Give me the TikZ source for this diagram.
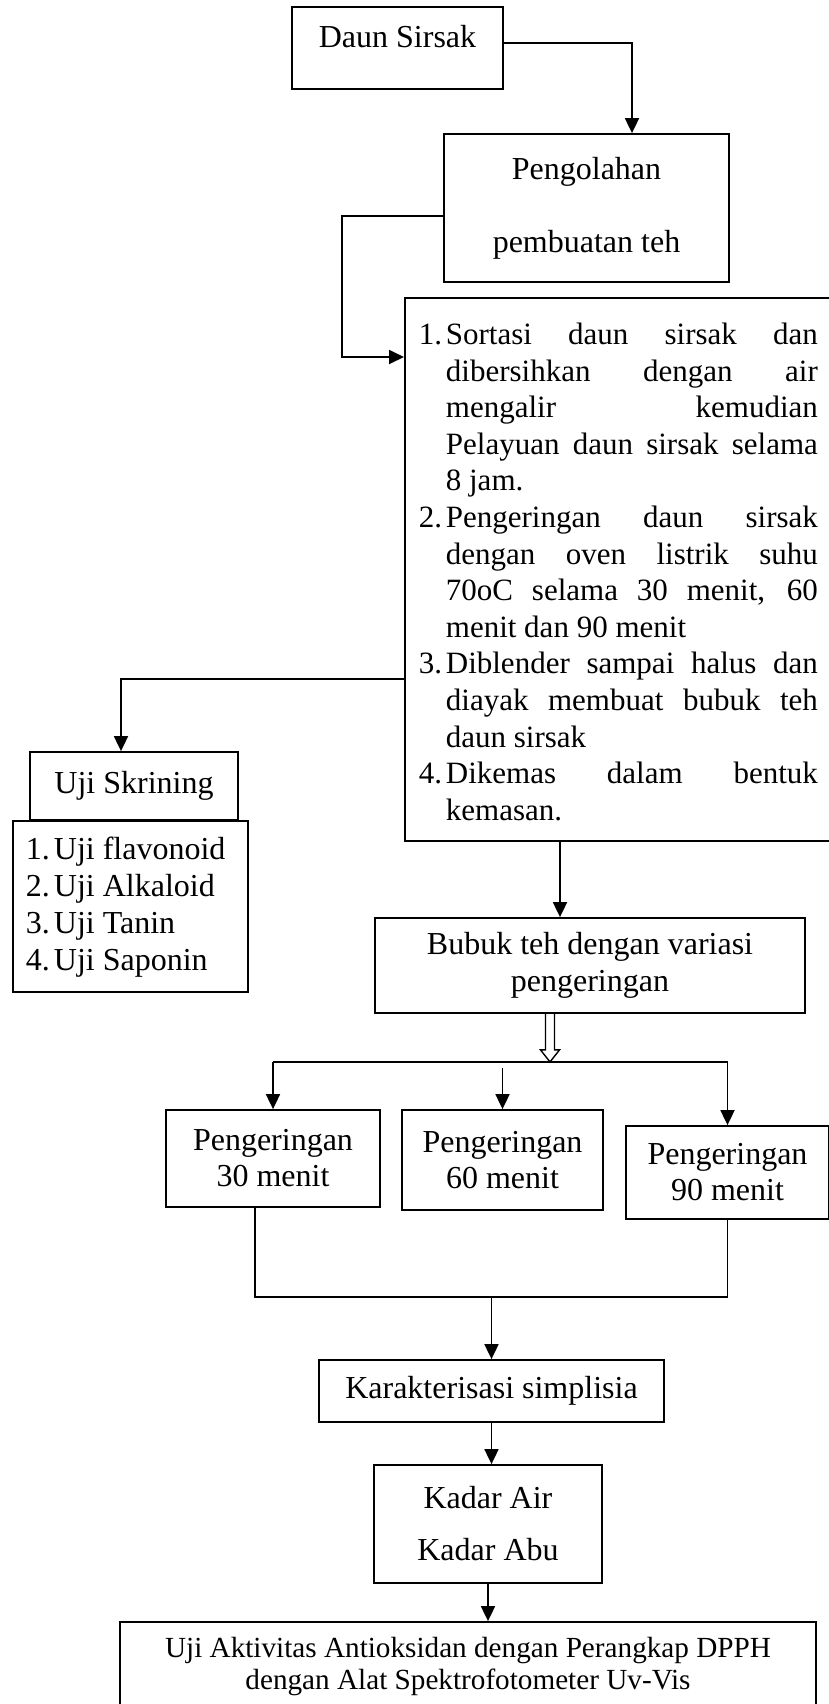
\documentclass[tikz,border=0pt]{standalone}
\usepackage{fontspec}
\setmainfont{Liberation Serif}
\usetikzlibrary{arrows.meta,calc,positioning}

\newcommand{\numitem}[3][13.5pt]{\par\noindent\hangindent=#1\hangafter=1\makebox[#1][l]{#2}#3\par}
\newcommand{\bottomgap}[1]{\par\kern#1\hrule height0pt width0pt}

\begin{document}
\begin{tikzpicture}[x=0.5pt,y=-0.5pt,line width=0.9pt,>={Triangle[length=7.5pt,width=7pt]}]
	\tikzset{flowbox/.style={draw,rectangle,inner sep=0pt,align=center,font=\fontsize{16}{18}\selectfont}}
	\useasboundingbox (0,0) rectangle (829,1704);

	\node[flowbox,minimum width=105.5pt,minimum height=41pt,text height=10.5pt,text depth=11.5pt] (daun) at (397.5,48) {Daun Sirsak};
	\node[flowbox,minimum width=142.5pt,minimum height=74pt] (olah) at (586.5,208) {Pengolahan\\[18.5pt]pembuatan teh};
	\node[flowbox,anchor=north west,minimum width=213.5pt,minimum height=271.5pt,text width=199.5pt,inner xsep=7pt,align=justify,font=\fontsize{15.5}{18.3}\selectfont] (steps) at (404,297) {%
		\numitem{1.}{Sortasi daun sirsak dan\linebreak dibersihkan dengan air\linebreak mengalir kemudian\linebreak Pelayuan daun sirsak selama\linebreak 8 jam.}%
		\numitem{2.}{Pengeringan daun sirsak\linebreak dengan oven listrik suhu\linebreak 70oC selama 30 menit, 60\linebreak menit dan 90 menit}%
		\numitem{3.}{Diblender sampai halus dan\linebreak diayak membuat bubuk teh\linebreak daun sirsak}%
		\numitem{4.}{Dikemas dalam bentuk\linebreak kemasan.}\bottomgap{5pt}};
	\node[flowbox,minimum width=104pt,minimum height=34pt] (skrin) at (134,786) {Uji Skrining};
	\node[flowbox,anchor=north west,minimum width=117.5pt,minimum height=85.5pt,text width=104.5pt,inner xsep=6.5pt,align=flush left,font=\fontsize{16}{18.5}\selectfont] (ujilist) at (12,820) {%
		\numitem[14pt]{1.}{Uji flavonoid}%
		\numitem[14pt]{2.}{Uji Alkaloid}%
		\numitem[14pt]{3.}{Uji Tanin}%
		\numitem[14pt]{4.}{Uji Saponin}\bottomgap{6.5pt}};
	\node[flowbox,minimum width=215pt,minimum height=47.5pt,font=\fontsize{16}{18.5}\selectfont] (bubuk) at (590,965.5) {Bubuk teh dengan variasi\\pengeringan};
	\node[flowbox,minimum width=107pt,minimum height=48.5pt] (p30) at (273,1158.5) {Pengeringan\\30 menit};
	\node[flowbox,minimum width=100.5pt,minimum height=50pt] (p60) at (502.5,1160) {Pengeringan\\60 menit};
	\node[flowbox,minimum width=101.5pt,minimum height=46.5pt] (p90) at (727.5,1172.5) {Pengeringan\\90 menit};
	\node[flowbox,minimum width=172.5pt,minimum height=31pt] (karak) at (491.5,1391) {Karakterisasi simplisia};
	\node[flowbox,minimum width=114pt,minimum height=59pt] (kadar) at (488,1524) {Kadar Air\\[8pt]Kadar Abu};
	\node[flowbox,minimum width=348pt,minimum height=44pt,font=\fontsize{14.6}{16}\selectfont] (uji) at (468,1666) {Uji Aktivitas Antioksidan dengan Perangkap DPPH\\dengan Alat Spektrofotometer Uv-Vis};

	\draw[->] ($(daun.east)+(0,-5)$) -| ($(olah.north)+(45.5,0)$);
	\draw[->] ($(olah.west)+(0,8)$) -- ++(-101,0) |- ($(steps.north west)+(0,60)$);
	\draw[->] ($(steps.north west)+(0,382)$) -| ($(skrin.north)+(-13,0)$);
	\coordinate (s4) at ($(steps.south west)+(156,0)$);
	\draw[->] (s4) -- (s4 |- bubuk.north);

	\coordinate (hollow) at ($(bubuk.south)+(-40,0)$);
	\coordinate (bartip) at ($(hollow)+(0,48)$);
	\draw[line width=0.7pt] ($(hollow)+(-4.5,0)$) -- ++(0,36) -- ++(-5,0) -- (bartip) -- ($(hollow)+(9.5,36)$) -- ++(-5,0) -- ++(0,-36);
	\draw (p30.north |- bartip) -- (p90.north |- bartip);
	\draw[->] (p30.north |- bartip) -- (p30.north);
	\draw[->] ($(p60.north |- bartip)+(0,6)$) -- (p60.north);
	\draw[->] (p90.north |- bartip) -- (p90.north);

	\draw ($(p30.south)+(-18,0)$) coordinate (p30out) -- ++(0,89) coordinate (join) -| (p90.south);
	\draw[->] (karak.north |- join) -- (karak.north);
	\draw[->] (karak.south) -- (karak.south |- kadar.north);
	\draw[->] (kadar.south) -- (kadar.south |- uji.north);
\end{tikzpicture}
\end{document}
